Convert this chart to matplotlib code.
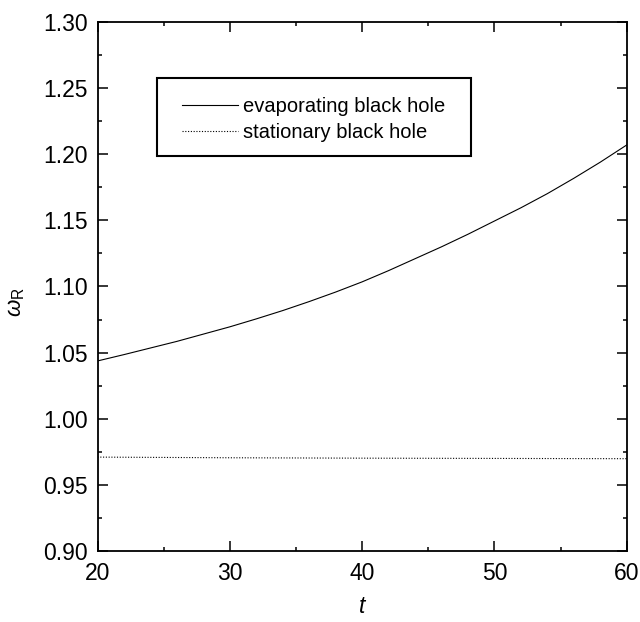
import matplotlib
matplotlib.use("Agg")
import matplotlib.pyplot as plt
from matplotlib.patches import Rectangle
from matplotlib.ticker import MultipleLocator

plt.rcParams['font.family'] = ['Liberation Sans', 'DejaVu Sans']
plt.rcParams['mathtext.fontset'] = 'custom'
plt.rcParams['mathtext.rm'] = 'Liberation Sans'
plt.rcParams['mathtext.it'] = 'Liberation Sans:italic'

# data
t_evap = [20, 22, 24, 26, 28, 30, 32, 34, 36, 38, 40, 42, 44, 46, 48, 50, 52, 54, 56, 58, 60]
w_evap = [1.0437, 1.0485, 1.0535, 1.0585, 1.0640, 1.0695, 1.0755, 1.0818, 1.0886, 1.0958,
          1.1035, 1.1120, 1.1210, 1.1300, 1.1395, 1.1495, 1.1595, 1.1702, 1.1818, 1.1940, 1.2070]
t_stat = [20, 30, 40, 50, 60]
w_stat = [0.9710, 0.9705, 0.9702, 0.9700, 0.9698]
labels = ["evaporating black hole", "stationary black hole"]
xticks = [20, 30, 40, 50, 60]
yticks = [0.90, 0.95, 1.00, 1.05, 1.10, 1.15, 1.20, 1.25, 1.30]

fig = plt.figure(figsize=(6.4, 6.22), dpi=100)
ax = fig.add_axes([97.5/640, 71/622, 529.2/640, 529/622])

l1, = ax.plot(t_evap, w_evap, color='black', lw=0.8, label=labels[0])
l2, = ax.plot(t_stat, w_stat, color='black', lw=0.8, ls=(0, (1, 1.5)), label=labels[1])

ax.set_xlim(20, 60)
ax.set_ylim(0.90, 1.30)
ax.set_xticks(xticks)
ax.set_yticks(yticks)
ax.set_xticklabels([str(v) for v in xticks])
ax.set_yticklabels(["%.2f" % v for v in yticks])
ax.xaxis.set_minor_locator(MultipleLocator(5))
ax.yaxis.set_minor_locator(MultipleLocator(0.025))
ax.tick_params(which='both', direction='in', top=True, right=True, width=1.1, labelsize=16.5)
ax.tick_params(which='major', length=7.2, pad=7)
ax.tick_params(axis='x', which='major', pad=8)
ax.tick_params(which='minor', length=3.2)
for s in ax.spines.values():
    s.set_linewidth(1.3)

ax.set_xlabel("$t$", fontsize=16.5)
ax.xaxis.set_label_coords(0.5, -0.083)
ax.set_ylabel(r"$\omega_{\mathrm{R}}$", fontsize=16)
ax.yaxis.set_label_coords(-0.133, 0.47)

rect = Rectangle((0.112, 0.7476), 0.7058 - 0.112, 0.8936 - 0.7476, transform=ax.transAxes,
                 fill=False, edgecolor='black', lw=1.5, zorder=5)
ax.add_patch(rect)
leg = ax.legend(handles=[l1, l2], loc='upper left', bbox_to_anchor=(0.1597, 0.859),
                frameon=False, fontsize=14.5, borderpad=0, borderaxespad=0,
                handlelength=2.76, handletextpad=0.26, labelspacing=0.35)

fig.savefig("out.png", dpi=100)
